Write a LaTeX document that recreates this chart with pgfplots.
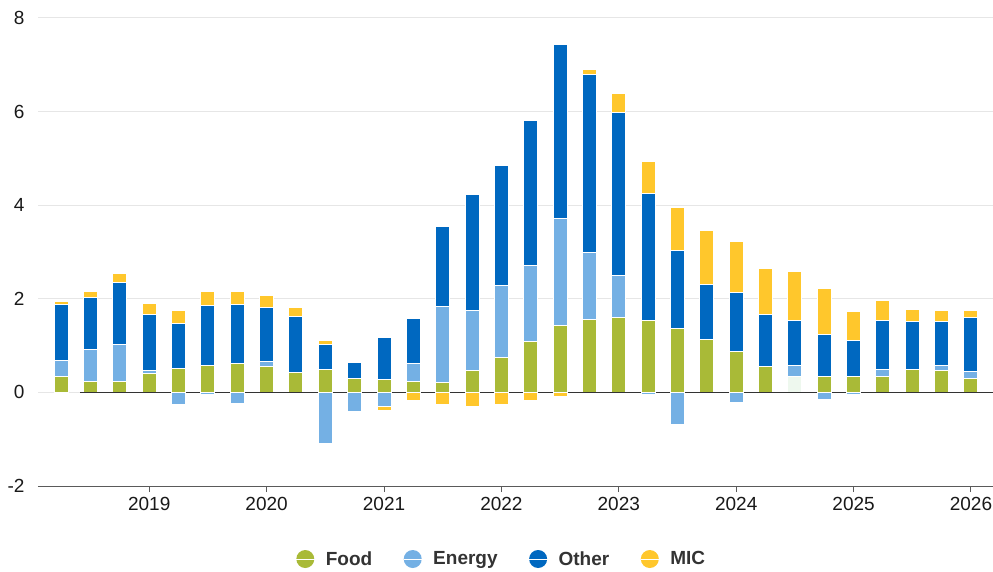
\documentclass[border=0pt]{standalone}
\usepackage{fontspec}
\setmainfont{Liberation Sans}
\usepackage{pgfplots}
\pgfplotsset{compat=1.18}
\usepackage{pgfplotstable}
\definecolor{food}{HTML}{A9BA37}
\definecolor{foodsel}{HTML}{EEF8EE}
\definecolor{energy}{HTML}{74B0E4}
\definecolor{other}{HTML}{0068C0}
\definecolor{mic}{HTML}{FFC72C}
\definecolor{gridc}{HTML}{E6E6E6}
\definecolor{axisc}{HTML}{5A5A5A}
\definecolor{legtext}{HTML}{333333}
\pgfplotstableread{
i food foodsel energy other mic energyneg micneg
0 0.34 0 0.34 1.20 0.06 0 0
1 0.23 0 0.69 1.11 0.13 0 0
2 0.23 0 0.79 1.32 0.19 0 0
3 0.40 0 0.06 1.20 0.25 0 0
4 0.52 0 0 0.95 0.29 -0.26 0
5 0.57 0 0 1.28 0.31 -0.04 0
6 0.62 0 0 1.26 0.28 -0.23 0
7 0.55 0 0.12 1.14 0.26 0 0
8 0.42 0 0 1.21 0.19 0 0
9 0.50 0 0 0.52 0.09 -1.10 0
10 0.29 0 0 0.34 0 -0.40 0
11 0.27 0 0 0.90 0 -0.31 -0.07
12 0.23 0 0.38 0.96 0 0 -0.17
13 0.21 0 1.63 1.70 0 0 -0.26
14 0.46 0 1.30 2.46 0 0 -0.30
15 0.74 0 1.54 2.56 0 0 -0.26
16 1.08 0 1.63 3.11 0 0 -0.17
17 1.42 0 2.29 3.73 0 0 -0.08
18 1.55 0 1.45 3.80 0.11 0 0
19 1.60 0 0.90 3.49 0.39 0 0
20 1.54 0 0 2.72 0.67 -0.05 0
21 1.37 0 0 1.66 0.92 -0.69 0
22 1.14 0 0 1.17 1.15 0 0
23 0.87 0 0 1.26 1.10 -0.22 0
24 0.55 0 0 1.11 0.98 0 0
25 0 0.34 0.24 0.95 1.06 0 0
26 0.34 0 0 0.90 0.98 -0.16 0
27 0.34 0 0 0.77 0.61 -0.04 0
28 0.34 0 0.15 1.05 0.43 0 0
29 0.50 0 0 1.01 0.27 0 0
30 0.46 0 0.11 0.94 0.25 0 0
31 0.30 0 0.14 1.16 0.16 0 0
}\data
\begin{document}
\begin{tikzpicture}
\useasboundingbox (-38pt,-85pt) rectangle (955pt,486pt);
\pgfplotsset{
  common/.style={
    scale only axis, width=955pt, height=468pt,
    xmin=-0.79, xmax=31.75, ymin=-2, ymax=8,
    ybar stacked, bar width=14pt,
    every axis plot/.append style={draw=white, line width=1pt},
  }
}
\begin{axis}[common,
  ytick={-2,0,2,4,6,8},
  ymajorgrids, major grid style={gridc, line width=1pt},
  xtick={3,7,11,15,19,23,27,31},
  xticklabels={2019,2020,2021,2022,2023,2024,2025,2026},
  axis x line*=bottom, axis y line*=left,
  y axis line style={draw=none},
  ytick style={draw=none},
  x axis line style={axisc, line width=1pt},
  xtick style={axisc, line width=1pt},
  tick align=outside, major tick length=6pt,
  /pgf/number format/assume math mode=true,
  ticklabel style={font=\fontsize{19}{22}\selectfont, color=black!90},
  xticklabel style={yshift=-2pt},
  yticklabel style={xshift=-4pt},
  legend style={at={(0.4853,-0.156)}, anchor=center, draw=none, fill=none,
    legend columns=4, font=\bfseries\fontsize{19}{22}\selectfont, text=legtext,
    /tikz/every even column/.append style={column sep=29pt}},
  legend image code/.code={\fill[#1,draw=none] (0pt,0pt) circle (9pt);
    \path (-9pt,0pt) -- (18pt,0pt);},
]
\addplot[fill=food] table[x=i,y=food]{\data};
\addlegendentry{Food}
\addplot[fill=foodsel, forget plot] table[x=i,y=foodsel]{\data};
\addplot[fill=energy] table[x=i,y=energy]{\data};
\addlegendentry{Energy}
\addplot[fill=other] table[x=i,y=other]{\data};
\addlegendentry{Other}
\addplot[fill=mic] table[x=i,y=mic]{\data};
\addlegendentry{MIC}
\end{axis}
\begin{axis}[common, hide axis]
\addplot[fill=energy] table[x=i,y=energyneg]{\data};
\addplot[fill=mic] table[x=i,y=micneg]{\data};
\draw[color=black!80, line width=1.5pt] (axis cs:0.65,0) -- (axis cs:31.75,0);
\end{axis}
\end{tikzpicture}
\end{document}
